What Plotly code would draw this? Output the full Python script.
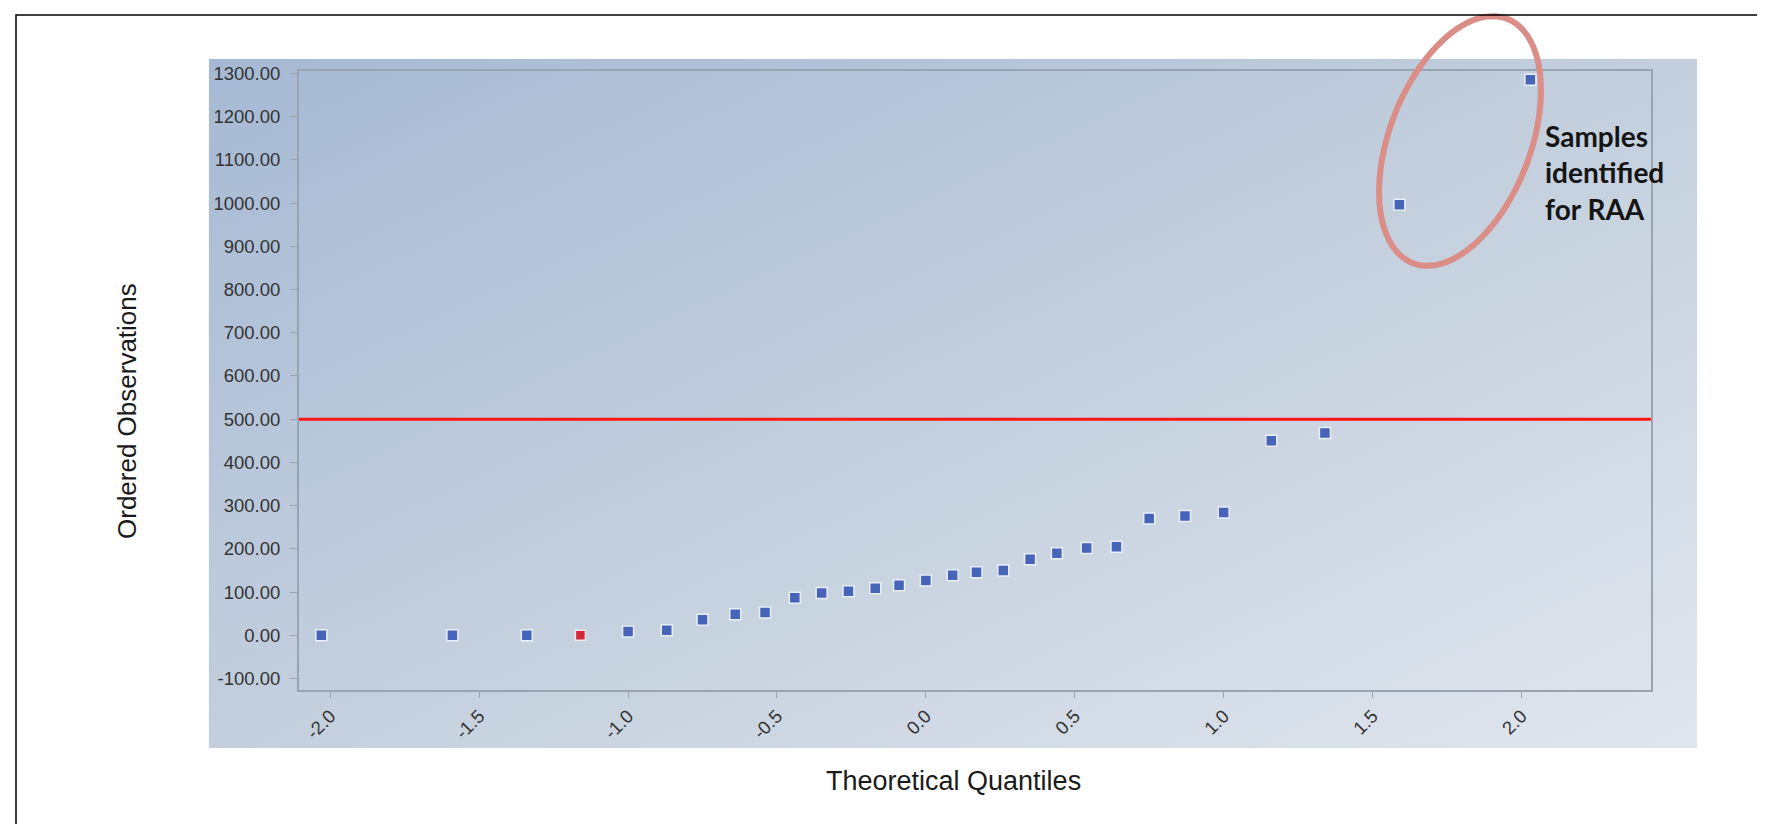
import base64
import math
import plotly.graph_objects as go

# ---------------- data ----------------
theoretical_quantiles = [-2.03, -1.59, -1.34, -1.00, -0.87, -0.75, -0.64, -0.54,
                         -0.44, -0.35, -0.26, -0.17, -0.09, 0.00, 0.09, 0.17,
                         0.26, 0.35, 0.44, 0.54, 0.64, 0.75, 0.87, 1.00,
                         1.16, 1.34, 1.59, 2.03]
ordered_observations = [0, 0, 0, 9, 12, 36, 49, 53,
                        87, 98, 102, 109, 116, 127, 139, 146,
                        150, 176, 190, 202, 205, 270, 276, 284,
                        450, 468, 996, 1285]
flagged_quantiles = [-1.16]
flagged_observations = [0]
threshold_value = 500

x_tick_values = [-2.0, -1.5, -1.0, -0.5, 0.0, 0.5, 1.0, 1.5, 2.0]
x_tick_labels = ["-2.0", "-1.5", "-1.0", "-0.5", "0.0", "0.5", "1.0", "1.5", "2.0"]
y_tick_values = [-100, 0, 100, 200, 300, 400, 500, 600, 700, 800, 900, 1000, 1100, 1200, 1300]
y_tick_labels = ["-100.00", "0.00", "100.00", "200.00", "300.00", "400.00", "500.00",
                 "600.00", "700.00", "800.00", "900.00", "1000.00", "1100.00",
                 "1200.00", "1300.00"]
annotation_text = "Samples<br>identified<br>for RAA"
x_title = "Theoretical Quantiles"
y_title = "Ordered Observations"

# ---------------- layout geometry (pixels) ----------------
W, H = 1765, 824
PL, PR, PT, PB = 291, 1643, 63, 682   # plot area edges


def px_x(x):
    return (x - PL) / (PR - PL)


def px_y(y):
    return (PB - y) / (PB - PT)


# gradient panel behind plot
svg = ('<svg xmlns="http://www.w3.org/2000/svg" width="100" height="100" '
       'viewBox="0 0 100 100" preserveAspectRatio="none">'
       '<defs><linearGradient id="g" x1="0" y1="0" x2="1" y2="1">'
       '<stop offset="0" stop-color="#a6b9d4"/>'
       '<stop offset="0.5" stop-color="#c3cfdd"/>'
       '<stop offset="1" stop-color="#e0e6ef"/>'
       '</linearGradient></defs>'
       '<rect x="0" y="0" width="100" height="100" fill="url(#g)"/></svg>')
svg_uri = "data:image/svg+xml;base64," + base64.b64encode(svg.encode()).decode()

panel_l, panel_r, panel_t, panel_b = 200.7, 1689, 50.7, 740

fig = go.Figure()

fig.add_trace(go.Scatter(
    x=theoretical_quantiles, y=ordered_observations, mode="markers",
    marker=dict(symbol="square", size=11, color="#4665b8",
                line=dict(color="#e9eef8", width=1.5)),
    showlegend=False, hoverinfo="x+y"))

fig.add_trace(go.Scatter(
    x=flagged_quantiles, y=flagged_observations, mode="markers",
    marker=dict(symbol="square", size=10, color="#d3263c",
                line=dict(color="#f4e6ea", width=1.5)),
    showlegend=False, hoverinfo="x+y"))

# ellipse around the two outliers (pixel geometry)
cx, cy, a, b, th = 1452, 133, 131, 70.5, math.radians(21.1)
ux, uy = math.sin(th), -math.cos(th)
vx, vy = math.cos(th), math.sin(th)
pts = []
for k in range(97):
    t = 2 * math.pi * k / 96
    px = cx + a * math.cos(t) * ux + b * math.sin(t) * vx
    py = cy + a * math.cos(t) * uy + b * math.sin(t) * vy
    pts.append((px_x(px), px_y(py)))
path = "M " + " L ".join(f"{p[0]:.5f},{p[1]:.5f}" for p in pts) + " Z"

shapes = [
    dict(type="line", xref="x domain", yref="y", x0=0, x1=1,
         y0=threshold_value, y1=threshold_value,
         line=dict(color="#ff1414", width=3)),
    dict(type="path", xref="paper", yref="paper", path=path,
         line=dict(color="#db8e88", width=6)),
    dict(type="rect", xref="paper", yref="paper",
         x0=px_x(8), x1=px_x(1762), y0=px_y(822), y1=px_y(7),
         line=dict(color="#000000", width=1.5)),
]

annotations = [
    dict(text=annotation_text, xref="paper", yref="paper",
         x=px_x(1535), y=px_y(165), xanchor="left", yanchor="middle",
         align="left", showarrow=False,
         font=dict(family="Lato, Open Sans, sans-serif", size=28, color="#151515",
                   weight="bold")),
    dict(text=x_title, xref="paper", yref="paper", x=px_x(945), y=px_y(773),
         xanchor="center", yanchor="middle", showarrow=False,
         font=dict(family="Liberation Sans, Arial, sans-serif", size=27, color="#1a1a1a")),
    dict(text=y_title, xref="paper", yref="paper", x=px_x(119), y=px_y(403),
         xanchor="center", yanchor="middle", showarrow=False, textangle=-90,
         font=dict(family="Liberation Sans, Arial, sans-serif", size=26, color="#1a1a1a")),
]

fig.update_layout(
    width=W, height=H,
    margin=dict(l=PL, r=W - PR, t=PT, b=H - PB, pad=0),
    paper_bgcolor="#ffffff",
    plot_bgcolor="rgba(0,0,0,0)",
    shapes=shapes,
    annotations=annotations,
    images=[dict(source=svg_uri, xref="paper", yref="paper",
                 x=px_x(panel_l), y=px_y(panel_t),
                 sizex=(panel_r - panel_l) / (PR - PL),
                 sizey=(panel_b - panel_t) / (PB - PT),
                 xanchor="left", yanchor="top", sizing="stretch",
                 layer="below")],
    xaxis=dict(range=[-2.105, 2.435], tickvals=x_tick_values, ticktext=x_tick_labels,
               tickangle=-45, ticks="outside", ticklen=6, tickcolor="#9aa3ae",
               showgrid=False, zeroline=False, showline=True, linecolor="#9aa4b0",
               linewidth=2, mirror=True,
               tickfont=dict(family="Liberation Sans, Arial, sans-serif", size=18.5,
                             color="#333333")),
    yaxis=dict(range=[-126.5, 1305.5], tickvals=y_tick_values, ticktext=y_tick_labels,
               ticks="outside", ticklen=7, tickcolor="#9aa3ae", ticklabelstandoff=6,
               showgrid=False, zeroline=False, showline=True, linecolor="#9aa4b0",
               linewidth=2, mirror=True,
               tickfont=dict(family="Liberation Sans, Arial, sans-serif", size=18.5,
                             color="#333333")),
)

fig.write_html("out.html")
